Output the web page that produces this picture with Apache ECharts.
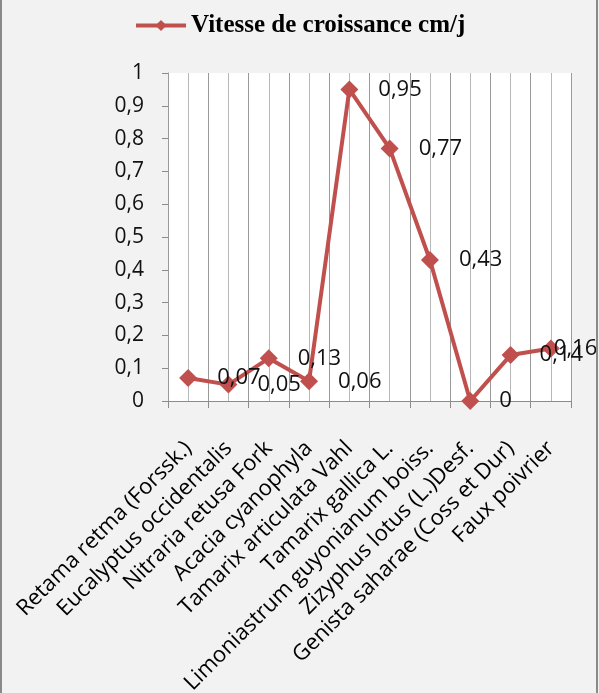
<!DOCTYPE html>
<html>
<head>
<meta charset="utf-8">
<script src="https://cdn.jsdelivr.net/npm/echarts@6/dist/echarts.min.js"></script>
<style>
  html, body { margin: 0; padding: 0; background: #f2f2f2; }
  #wrap { position: relative; width: 599px; height: 693px; overflow: hidden; }
  #chart { width: 599px; height: 693px; }
  .edge { position: absolute; top: 0; bottom: 0; width: 2px; background: #8a8a8a; }
</style>
</head>
<body>
<div id="wrap">
  <div id="chart"></div>
  <div class="edge" style="left:0"></div>
  <div class="edge" style="left:596px"></div>
</div>
<script>
// Species observed
const categories = [
  'Retama retma (Forssk.)',
  'Eucalyptus occidentalis',
  'Nitraria retusa Fork',
  'Acacia cyanophyla',
  'Tamarix articulata Vahl',
  'Tamarix gallica L.',
  'Limoniastrum guyonianum boiss.',
  'Zizyphus lotus (L.)Desf.',
  'Genista saharae (Coss et Dur)',
  'Faux poivrier'
];

// Growth rate per species (cm/day)
const growth = [0.07, 0.05, 0.13, 0.06, 0.95, 0.77, 0.43, 0, 0.14, 0.16];

const seriesName = 'Vitesse de croissance cm/j';

// Value axis range
const yMin = 0;
const yMax = 1;
const yStep = 0.1;

const RED = '#C0504D';
const FONT = 'Open Sans';
const comma = v => String(Math.round(v * 100) / 100).replace('.', ',');

const chart = echarts.init(document.getElementById('chart'), null, { renderer: 'canvas' });

const seriesData = growth.map((v, i) => {
  if (i === growth.length - 1) {
    // last label is pulled back inside the chart edge
    return { value: v, label: { offset: [-26, 0] } };
  }
  return v;
});

chart.setOption({
  backgroundColor: '#f2f2f2',
  animation: false,
  legend: {
    data: [seriesName],
    top: 8,
    left: 129,
    itemWidth: 50,
    itemHeight: 14,
    itemGap: 4,
    itemStyle: { color: RED },
    lineStyle: { width: 4, color: RED },
    textStyle: {
      fontFamily: 'Liberation Serif',
      fontWeight: 'bold',
      fontSize: 25,
      color: '#000'
    }
  },
  grid: {
    left: 168,
    right: 28,
    top: 73,
    bottom: 292,
    outerBoundsMode: 'none',
    containLabel: false,
    show: true,
    backgroundColor: '#ffffff',
    borderWidth: 0
  },
  xAxis: [
    {
      type: 'category',
      data: categories,
      boundaryGap: true,
      axisLine: { lineStyle: { color: '#8c8c8c', width: 1 } },
      axisTick: { show: true, length: 7, lineStyle: { color: '#8c8c8c' } },
      splitLine: { show: true, lineStyle: { color: '#9a9a9a', width: 1 } },
      axisLabel: {
        interval: 0,
        rotate: 45,
        margin: 44,
        fontFamily: FONT,
        fontSize: 22,
        color: '#000'
      },
      z: 3
    },
    {
      // half-category grid lines
      type: 'value',
      min: 0,
      max: 20,
      interval: 1,
      position: 'bottom',
      axisLine: { show: false },
      axisTick: { show: false },
      axisLabel: { show: false },
      splitLine: { show: true, lineStyle: { color: '#b8b8b8', width: 1 } }
    }
  ],
  yAxis: {
    type: 'value',
    min: yMin,
    max: yMax,
    interval: yStep,
    axisLine: { show: true, lineStyle: { color: '#8c8c8c' } },
    axisTick: { show: true, length: 6, inside: false, lineStyle: { color: '#8c8c8c' } },
    splitLine: { show: false },
    axisLabel: {
      margin: 24,
      fontFamily: FONT,
      fontSize: 21,
      color: '#111',
      formatter: comma
    }
  },
  series: [
    {
      name: seriesName,
      type: 'line',
      xAxisIndex: 0,
      data: seriesData,
      symbol: 'diamond',
      symbolSize: 18,
      lineStyle: { color: RED, width: 4 },
      itemStyle: { color: RED },
      label: {
        show: true,
        position: 'right',
        distance: 20,
        fontFamily: FONT,
        fontSize: 22,
        color: '#111',
        formatter: p => comma(p.value)
      },
      z: 5
    }
  ]
});
</script>
</body>
</html>
